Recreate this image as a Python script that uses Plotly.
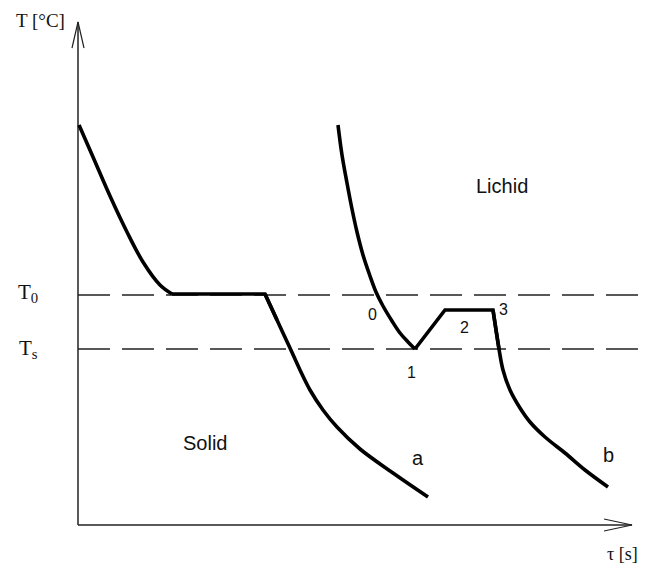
import plotly.graph_objects as go

# Curve a (pure metal: cooling, plateau at T0, further cooling)
tau_a = [1, 15, 32, 49, 65, 82, 94, 187,
         199, 212, 222, 232, 245, 259, 282, 315, 350]
T_a = [400, 368, 329, 293, 263, 240, 231, 231,
       205, 177, 155, 135, 115, 98, 76, 52, 28]

# Curve b (undercooling to Ts, recalescence, plateau, further cooling)
tau_b = [260, 264, 269, 274, 279, 285, 292, 298, 305, 314, 322, 330, 337,
         367, 415, 421, 425, 432, 442, 452, 467, 487, 507, 530]
T_b = [400, 370, 342, 316, 293, 270, 249, 233, 219, 204, 192, 183, 176,
       215, 215, 176, 155, 135, 117, 103, 88, 72, 55, 38]

T0 = 230
Ts = 176
x_end = 554
y_end = 503

fig = go.Figure()

axc = "#222"
# axes
fig.add_trace(go.Scatter(x=[0, 0], y=[0, y_end], mode="lines",
                         line=dict(color=axc, width=1.5), hoverinfo="skip"))
fig.add_trace(go.Scatter(x=[0, x_end], y=[0, 0], mode="lines",
                         line=dict(color=axc, width=1.5), hoverinfo="skip"))
# arrowheads
fig.add_trace(go.Scatter(x=[-6, 0, 6], y=[y_end - 26, y_end, y_end - 26], mode="lines",
                         line=dict(color=axc, width=1.2), hoverinfo="skip"))
fig.add_trace(go.Scatter(x=[x_end - 28, x_end, x_end - 28], y=[6, 0, -6], mode="lines",
                         line=dict(color=axc, width=1.2), hoverinfo="skip"))

# dashed reference lines
for yv in (T0, Ts):
    fig.add_trace(go.Scatter(x=[0, 572], y=[yv, yv], mode="lines",
                             line=dict(color=axc, width=1.5, dash="32px,12px"),
                             hoverinfo="skip"))


def seg(xs, ys, shape):
    fig.add_trace(go.Scatter(x=xs, y=ys, mode="lines", hoverinfo="skip",
                             line=dict(color="black", width=3.6, shape=shape,
                                       smoothing=1.0)))


# curve a segments
seg(tau_a[0:7], T_a[0:7], "spline")
seg(tau_a[6:9], T_a[6:9], "linear")
seg(tau_a[7:], T_a[7:], "spline")
# curve b segments
seg(tau_b[0:13], T_b[0:13], "spline")
seg(tau_b[12:16], T_b[12:16], "linear")
seg(tau_b[14:], T_b[14:], "spline")

serif = "Liberation Serif, Times New Roman, serif"
sans = "Liberation Sans, Arial, sans-serif"
ann = [
    dict(x=-38, y=505, text="T [°C]", font=dict(family=serif, size=19)),
    dict(x=-50, y=T0 + 2, text="T<sub>0</sub>", font=dict(family=serif, size=21)),
    dict(x=-50, y=Ts + 0, text="T<sub>s</sub>", font=dict(family=serif, size=21)),
    dict(x=544, y=-29, text="τ [s]", font=dict(family=serif, size=18)),
    dict(x=424, y=339, text="Lichid", font=dict(family=sans, size=20)),
    dict(x=127, y=82, text="Solid", font=dict(family=sans, size=20)),
    dict(x=340, y=67, text="a", font=dict(family=sans, size=20)),
    dict(x=530, y=70, text="b", font=dict(family=sans, size=20)),
    dict(x=294, y=211, text="0", font=dict(family=sans, size=16)),
    dict(x=333, y=153, text="1", font=dict(family=sans, size=16)),
    dict(x=386, y=198, text="2", font=dict(family=sans, size=16)),
    dict(x=425, y=216, text="3", font=dict(family=sans, size=16)),
]
for a in ann:
    a.update(showarrow=False, xref="x", yref="y")
    a["font"]["color"] = "#111"
fig.update_layout(annotations=ann)

# page body has an 8px margin, so the figure is 8px smaller than the window
fig.update_layout(
    width=642, height=557,
    margin=dict(l=0, r=0, t=0, b=0),
    plot_bgcolor="white", paper_bgcolor="white",
    showlegend=False,
    xaxis=dict(range=[-70, 572], visible=False, fixedrange=True),
    yaxis=dict(range=[-40, 517], visible=False, fixedrange=True),
)

fig.write_html("out.html")
